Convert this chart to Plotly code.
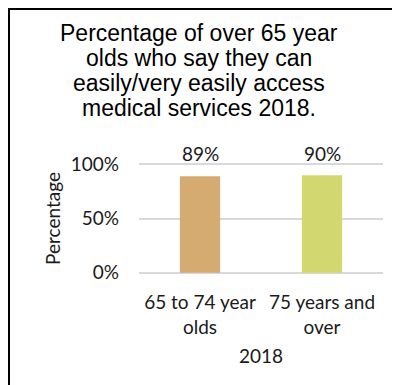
import plotly.graph_objects as go

categories = ["65 to 74 year<br>olds", "75 years and<br>over"]
values = [0.89, 0.90]
value_labels = ["89%", "90%"]
bar_colors = ["#D5AB71", "#D3D76F"]
title_lines = ["Percentage of over 65 year", "olds who say they can",
               "easily/very easily access", "medical services 2018."]
y_ticks = [0, 0.5, 1.0]
y_tick_labels = ["0%", "50%", "100%"]

W, H = 400, 385
OFF = 8  # page offset of the figure
Y0, Y1 = -0.04, 1.04
PW = 244
PH = 117
L = 139 - OFF
T = 160 - OFF
R = W - L - PW
B = H - T - PH

def px_x(px):
    return (px - OFF - L) / PW

def px_y(py):
    return (H - B - (py - OFF)) / PH

fig = go.Figure()
fig.add_trace(go.Bar(x=categories, y=values, marker_color=bar_colors,
                     marker_line_width=0, width=0.33, hoverinfo="skip"))

tick_font = dict(family="Lato, Noto Sans, sans-serif", size=19, color="#1a1a1a")

annotations = []
for cat, v, lab in zip(categories, values, value_labels):
    annotations.append(dict(x=cat, y=1.0, xref="x", yref="y", text=lab,
                            showarrow=False, yanchor="middle", yshift=11,
                            font=tick_font))
line_centers = [33, 58, 83, 108]
for line, cy in zip(title_lines, line_centers):
    annotations.append(dict(x=px_x(199), y=px_y(cy), xref="paper", yref="paper",
                            text=line, showarrow=False, xanchor="center",
                            yanchor="middle",
                            font=dict(family="Liberation Sans, Arial, sans-serif",
                                      size=23, color="#000000")))

fig.update_layout(
    width=W, height=H,
    margin=dict(l=L, r=R, t=T, b=B, pad=0),
    paper_bgcolor="white", plot_bgcolor="white",
    showlegend=False,
    annotations=annotations,
    shapes=[dict(type="rect", xref="paper", yref="paper",
                 x0=px_x(OFF + 1), x1=px_x(420), y0=px_y(OFF + 1), y1=px_y(420),
                 line=dict(color="#000000", width=2), fillcolor="rgba(0,0,0,0)",
                 layer="above")],
    xaxis=dict(showgrid=False, showline=False, zeroline=False, automargin=False,
               tickfont=tick_font, ticklabelstandoff=12,
               title=dict(text="2018", font=tick_font, standoff=12)),
    yaxis=dict(range=[Y0, Y1], tickvals=y_ticks, ticktext=y_tick_labels,
               showgrid=True, gridcolor="#D9D9D9", gridwidth=1.5, automargin=False,
               zeroline=False, showline=False, tickfont=tick_font,
               ticklabelstandoff=19,
               title=dict(text="Percentage", font=tick_font, standoff=5)),
)

fig.write_html("out.html")
